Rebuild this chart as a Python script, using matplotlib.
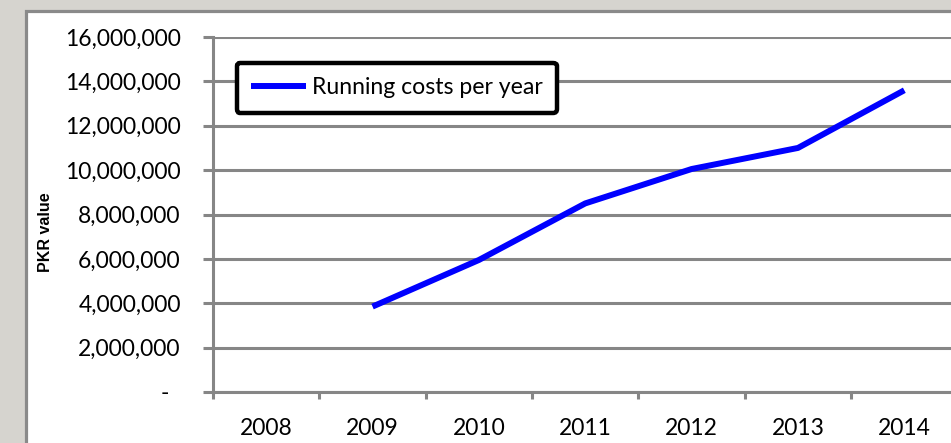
import matplotlib
matplotlib.use("Agg")
import matplotlib.pyplot as plt
from matplotlib.patches import Rectangle
from matplotlib.ticker import FuncFormatter, FixedLocator
import numpy as np

years = ["2008", "2009", "2010", "2011", "2012", "2013", "2014"]
running_costs = [np.nan, 3850000, 5950000, 8500000, 10050000, 11000000, 13600000]
series_name = "Running costs per year"
y_label = "PKR value"

plt.rcParams['font.family'] = ['Lato', 'DejaVu Sans']

W, H = 951, 443
fig = plt.figure(figsize=(W / 100, H / 100), dpi=100, facecolor='#d6d4cf')

# white chart area with grey frame on the left/top
fig.patches.append(Rectangle((25.5 / W, -0.05), 1.1, 1 - 11.5 / H + 0.05,
                             transform=fig.transFigure, facecolor='white',
                             edgecolor='#8a8a8a', linewidth=2.3, zorder=-10))

grid_col = '#868686'
ax = fig.add_axes([213 / W, 1 - 392 / H, 744.5 / W, 355 / H])
ax.set_facecolor('none')

x = np.arange(len(years))
ax.plot(x, running_costs, color='#0000ff', linewidth=4.3, solid_capstyle='butt',
        label=series_name, zorder=3)

ax.set_xlim(-0.5, len(years) - 0.5)
ax.set_ylim(0, 16000000)
ax.set_yticks(np.arange(0, 16000001, 2000000))
ax.yaxis.set_major_formatter(FuncFormatter(lambda v, p: "-  " if v == 0 else f"{v:,.0f}"))
ax.grid(axis='y', color=grid_col, linewidth=2.2)
ax.set_axisbelow(True)

ax.set_xticks(x)
ax.set_xticklabels(years)
ax.xaxis.set_minor_locator(FixedLocator(np.arange(-0.5, len(years), 1.0)))
ax.tick_params(axis='x', which='major', length=0, pad=18.5, labelsize=16.5)
ax.tick_params(axis='x', which='minor', length=5, width=2.2, color=grid_col)
ax.tick_params(axis='y', length=7.2, width=2.2, color=grid_col, pad=16, labelsize=16.5)

for s in ['top', 'right']:
    ax.spines[s].set_visible(False)
for s in ['left', 'bottom']:
    ax.spines[s].set_color(grid_col)
    ax.spines[s].set_linewidth(2.2)

fig.text(45 / W, 1 - 232 / H, y_label, rotation=90, ha='center', va='center',
         fontsize=11.5, fontweight='bold', family='Liberation Sans')

leg = ax.legend(loc='upper left', bbox_to_anchor=(0.032, 0.927), borderaxespad=0,
                fontsize=16.6, handlelength=2.4, handletextpad=0.22, borderpad=0.62,
                fancybox=True, framealpha=1)
leg.get_frame().set_edgecolor('black')
leg.get_frame().set_linewidth(3.2)
leg.get_frame().set_boxstyle('round,pad=0,rounding_size=0.15')

fig.savefig("out.png", dpi=100, facecolor=fig.get_facecolor())
